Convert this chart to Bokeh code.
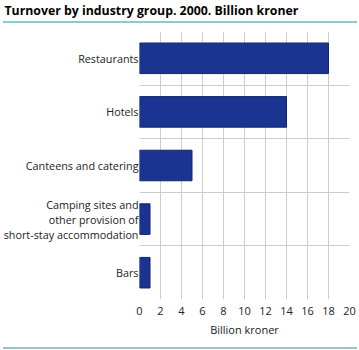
from bokeh.plotting import figure
from bokeh.layouts import column
from bokeh.models import Range1d, FixedTicker, Div
from bokeh.embed import file_html
from bokeh.resources import INLINE

title_text = "Turnover by  industry group. 2000. Billion kroner"
categories = ["Restaurants", "Hotels", "Canteens and catering",
              "Camping sites and\nother provision of\nshort-stay accommodation", "Bars"]
values = [18.0, 14.0, 5.0, 1.0, 1.0]
x_ticks = [0, 2, 4, 6, 8, 10, 12, 14, 16, 18, 20]
x_label = "Billion kroner"

FONT = "Open Sans"
TEAL = "#8acccc"
GRID = "#cccccc"
BAR = "#1b3491"

n = len(categories)
ys = [n - 0.5 - i for i in range(n)]
p = figure(width=359, height=361, x_range=Range1d(0, 20), y_range=Range1d(0, n),
           toolbar_location=None, output_backend="svg",
           min_border_left=139, min_border_right=10, min_border_top=0, min_border_bottom=48)
p.margin = (-14, 0, 0, 0)
p.outline_line_color = None
p.border_fill_color = None
p.hbar(y=ys, right=values, left=0, height=0.57, fill_color=BAR, line_color="#13256a", line_width=1)

p.title.text = title_text
p.title.align = "left"
p.title.offset = -135
p.title.text_font = FONT
p.title.text_font_size = "12.3px"
p.title.text_font_style = "bold"
p.title.text_color = "#000000"
p.title.standoff = 26

p.xaxis.ticker = FixedTicker(ticks=x_ticks)
p.xaxis.axis_line_color = None
p.xaxis.major_tick_line_color = None
p.xaxis.minor_tick_line_color = None
p.xaxis.major_tick_out = 0
p.xaxis.major_tick_in = 0
p.xaxis.major_label_text_font = FONT
p.xaxis.major_label_text_font_size = "11px"
p.xaxis.major_label_text_color = "#222222"
p.xaxis.major_label_standoff = 7
p.xaxis.axis_label = x_label
p.xaxis.axis_label_text_font = FONT
p.xaxis.axis_label_text_font_size = "11px"
p.xaxis.axis_label_text_font_style = "normal"
p.xaxis.axis_label_text_color = "#222222"
p.xaxis.axis_label_standoff = 4

p.yaxis.ticker = FixedTicker(ticks=ys)
p.yaxis.major_label_overrides = {y: c for y, c in zip(ys, categories)}
p.yaxis.axis_line_color = None
p.yaxis.major_tick_line_color = None
p.yaxis.minor_tick_line_color = None
p.yaxis.major_tick_out = 0
p.yaxis.major_tick_in = 0
p.yaxis.major_label_text_font = FONT
p.yaxis.major_label_text_font_size = "10.8px"
p.yaxis.major_label_text_line_height = 1.0
p.yaxis.major_label_text_color = "#222222"
p.yaxis.major_label_standoff = 1

p.xgrid.grid_line_color = GRID
p.ygrid.ticker = FixedTicker(ticks=[1, 2, 3, 4, 5])
p.ygrid.grid_line_color = GRID

top_line = Div(text="", width=354, height=2, margin=(21, 0, -23, 3),
               styles={"background-color": TEAL, "position": "relative", "z-index": "2"})
bottom_line = Div(text="", width=354, height=2, margin=(0, 0, 0, 3),
                  styles={"background-color": TEAL})

layout = column(top_line, p, bottom_line, spacing=0)
open("out.html", "w").write(file_html(layout, INLINE))
